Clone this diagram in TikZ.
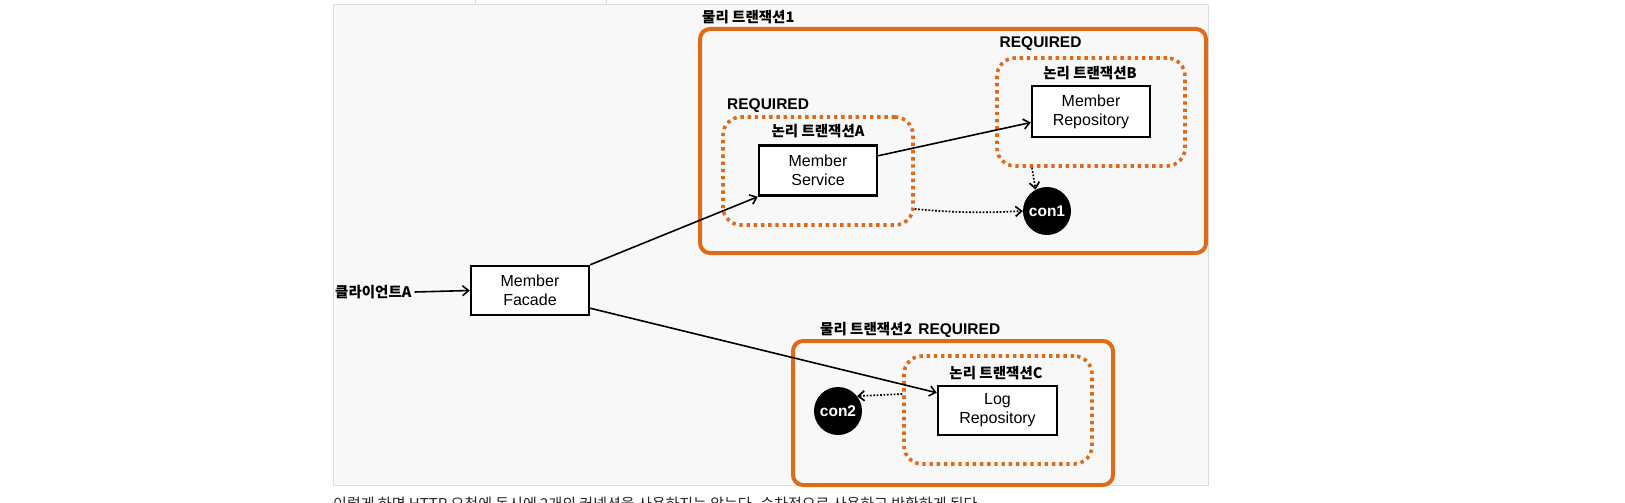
\documentclass[tikz,border=0pt]{standalone}
\usepackage{fontspec}
\setmainfont{Liberation Sans}
\newfontfamily\kr{Noto Sans CJK KR}
\usetikzlibrary{arrows.meta,calc}
\definecolor{tor}{HTML}{E06A1A}
\definecolor{panelbg}{HTML}{F8F8F8}
\definecolor{panelln}{HTML}{DDDDDD}
\tikzset{
  comp/.style={draw=black, line width=2.5pt, fill=white, align=center, font=\fontsize{16}{19}\selectfont, inner sep=0pt},
  phys/.style={draw=tor, line width=4pt, rounded corners=10pt},
  logi/.style={draw=tor, line width=3.6pt, dash pattern=on 3.4pt off 3.8pt, rounded corners=18pt},
  conn/.style={circle, fill=black, text=white, font=\fontsize{15.5}{15.5}\bfseries, minimum size=48pt, inner sep=0pt},
  krlab/.style={font=\kr\bfseries\fontsize{14.5}{15}\selectfont, inner sep=0pt},
  reqlab/.style={font=\bfseries\fontsize{15.5}{15.5}\selectfont, inner sep=0pt},
  arr/.style={line width=1.6pt, -{Straight Barb[length=6pt,width=10pt]}},
  darr/.style={line width=1.7pt, dash pattern=on 1.7pt off 1.7pt, -{Straight Barb[length=6pt,width=10pt]}}
}
\begin{document}
\begin{tikzpicture}[x=1pt,y=-1pt]
\clip (0,0) rectangle (1625,503);
\fill[white] (0,0) rectangle (1625,503);
% panel
\draw[panelln, fill=panelbg, line width=1pt] (333,5) rectangle (1208,485.5);
\draw[panelln, fill=white, line width=1pt] (475,-2) rectangle (606,4.5);
% physical transaction 1
\draw[phys] (700,29) rectangle (1206,253);
\node[krlab, anchor=west] (p1lab) at (702,17) {물리 트랜잭션1};
% logical A
\node[logi, minimum width=190pt, minimum height=108pt] (dA) at (818,171) {};
\node[reqlab, anchor=west] (reqA) at (727,105.5) {REQUIRED};
\node[krlab] (labA) at (818,131) {논리 트랜잭션A};
\node[comp, minimum width=118pt, minimum height=50pt] (service) at (818,170.5) {Member\\Service};
% logical B
\node[logi, minimum width=188pt, minimum height=108pt] (dB) at (1091,112) {};
\node[reqlab, anchor=west] (reqB) at (999.5,44) {REQUIRED};
\node[krlab] (labB) at (1090,73) {논리 트랜잭션B};
\node[comp, minimum width=118pt, minimum height=51pt] (mrepo) at (1091,111.5) {Member\\Repository};
\node[conn] (con1) at (1047,211) {con1};
% client + facade
\node[krlab, anchor=west] (client) at (335,292) {클라이언트A};
\node[comp, minimum width=118pt, minimum height=49pt] (facade) at (530,290.5) {Member\\Facade};
% physical transaction 2
\draw[phys] (793,341) rectangle (1113,485);
\node[krlab, anchor=west] (p2lab) at (820,330) {물리 트랜잭션2\hspace{6pt}{\rmfamily\bfseries\fontsize{15.5}{15.5}\selectfont REQUIRED}};
\node[logi, minimum width=188pt, minimum height=108pt] (dC) at (998,410) {};
\node[krlab] (labC) at (996,373) {논리 트랜잭션C};
\node[comp, minimum width=119pt, minimum height=49pt] (logrepo) at (997.5,410.5) {Log\\Repository};
\node[conn] (con2) at (838,411) {con2};
% connectors
\draw[arr] (client.east) ++(3pt,0) -- (facade.west);
\draw[arr] (facade.north east) -- (service.south west);
\draw[arr] ([yshift=8pt]facade.south east) -- ([yshift=-8pt]logrepo.north west);
\draw[arr] ([yshift=-11.5pt]service.north east) -- ([yshift=-11pt]mrepo.west);
\coordinate (aout) at ([yshift=-38pt]dA.east);
\draw[darr] (aout) to[bend right=4] (con1.west);
\coordinate (bout) at ([xshift=-59pt]dB.south);
\draw[darr] (bout) -- (con1.118);
\coordinate (cout) at ([yshift=16pt]dC.west);
\draw[darr] (cout) -- (con2.38);
% bottom caption (cut off, as in the reference)
\node[font=\kr\fontsize{15}{15}\selectfont, text=black!85, anchor=base west, inner sep=0pt] (cap) at (333,509) {이렇게 하면 HTTP 요청에 동시에 2개의 커넥션을 사용하지는 않는다. 순차적으로 사용하고 반환하게 된다.};
\end{tikzpicture}
\end{document}
